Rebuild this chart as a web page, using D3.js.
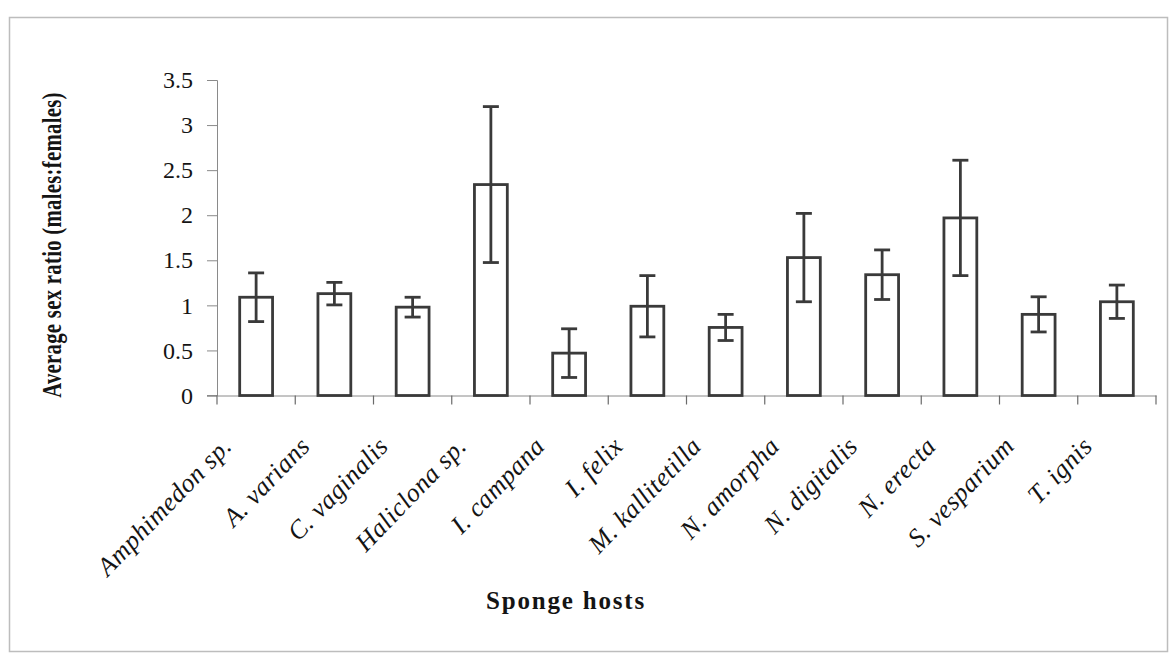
<!DOCTYPE html>
<html>
<head>
<meta charset="utf-8">
<script src="https://cdn.jsdelivr.net/npm/d3@7"></script>
<style>
  html, body { margin: 0; padding: 0; background: #fff; }
  svg { display: block; }
  text { font-family: "Liberation Serif", "DejaVu Serif", serif; fill: #141414; }
</style>
</head>
<body>
<svg id="chart" width="1172" height="662"></svg>
<script>
// Average sex ratio (males:females) of the associated fauna per sponge host, with error bars
const hosts = [
  "Amphimedon sp.", "A. varians", "C. vaginalis", "Haliclona sp.",
  "I. campana", "I. felix", "M. kallitetilla", "N. amorpha",
  "N. digitalis", "N. erecta", "S. vesparium", "T. ignis"
];
const meanRatio = [1.09, 1.13, 0.98, 2.34, 0.47, 0.99, 0.755, 1.53, 1.34, 1.97, 0.90, 1.04];
const errRatio  = [0.27, 0.125, 0.11, 0.865, 0.27, 0.34, 0.145, 0.49, 0.275, 0.64, 0.195, 0.185];
const yTicks = [0, 0.5, 1, 1.5, 2, 2.5, 3, 3.5];

const yAxisTitle = "Average sex ratio (males:females)";
const xAxisTitle = "Sponge hosts";

const svg = d3.select("#chart");
const ink = "#3a3a3a";

// outer frame
svg.append("rect")
  .attr("x", 9.5).attr("y", 17.5)
  .attr("width", 1158).attr("height", 634)
  .attr("fill", "none").attr("stroke", "#bdbdbd").attr("stroke-width", 1.5);

const x = d3.scaleBand().domain(hosts).range([217, 1156]).paddingInner(0).paddingOuter(0);
const y = d3.scaleLinear().domain([0, 3.5]).range([395.5, 80]);
const barFrac = 0.42;
const bw = x.bandwidth() * barFrac;
const cx = h => x(h) + x.bandwidth() / 2;

// y axis
const yAxis = svg.append("g")
  .attr("transform", "translate(217,0)")
  .call(d3.axisLeft(y).tickValues(yTicks).tickSize(10).tickPadding(14).tickFormat(d => String(d)));
yAxis.select(".domain").attr("stroke", "#8a8a8a").attr("stroke-width", 1);
yAxis.selectAll(".tick line").attr("stroke", "#8a8a8a").attr("stroke-width", 1);
yAxis.selectAll(".tick text")
  .attr("font-family", "Liberation Serif, serif")
  .attr("font-size", 24)
  .attr("fill", "#141414");

// x axis baseline with boundary ticks between categories
const xAxis = svg.append("g")
  .attr("transform", `translate(0,${y(0)})`)
  .call(d3.axisBottom(x).tickSize(0).tickFormat(""));
xAxis.select(".domain").attr("stroke", "#8a8a8a").attr("stroke-width", 1);
xAxis.selectAll(".tick").remove();
svg.append("line")
  .attr("x1", 207).attr("x2", 217)
  .attr("y1", y(0)).attr("y2", y(0))
  .attr("stroke", "#8a8a8a");
const bounds = hosts.map(h => x(h)).concat([x.range()[1]]);
svg.append("g").selectAll("line").data(bounds).join("line")
  .attr("x1", d => d).attr("x2", d => d)
  .attr("y1", y(0)).attr("y2", y(0) + 9)
  .attr("stroke", "#6a6a6a").attr("stroke-width", 1.2);

// bars
const data = hosts.map((h, i) => ({ h, v: meanRatio[i], e: errRatio[i] }));
svg.append("g").selectAll("rect").data(data).join("rect")
  .attr("x", d => cx(d.h) - bw / 2)
  .attr("y", d => y(d.v))
  .attr("width", bw)
  .attr("height", d => y(0) - y(d.v))
  .attr("fill", "#fff")
  .attr("stroke", ink)
  .attr("stroke-width", 2.8);

// error bars
const cap = 16;
const eb = svg.append("g").attr("stroke", ink).attr("stroke-width", 2.8).attr("fill", "none");
eb.selectAll("line.stem").data(data).join("line").attr("class", "stem")
  .attr("x1", d => cx(d.h)).attr("x2", d => cx(d.h))
  .attr("y1", d => y(d.v + d.e)).attr("y2", d => y(d.v - d.e));
eb.selectAll("line.top").data(data).join("line").attr("class", "top")
  .attr("x1", d => cx(d.h) - cap / 2).attr("x2", d => cx(d.h) + cap / 2)
  .attr("y1", d => y(d.v + d.e)).attr("y2", d => y(d.v + d.e));
eb.selectAll("line.bot").data(data).join("line").attr("class", "bot")
  .attr("x1", d => cx(d.h) - cap / 2).attr("x2", d => cx(d.h) + cap / 2)
  .attr("y1", d => y(d.v - d.e)).attr("y2", d => y(d.v - d.e));

// category labels, slanted
svg.append("g").selectAll("text").data(hosts).join("text")
  .attr("transform", h => `translate(${cx(h) - 23},${y(0) + 52}) rotate(-46)`)
  .attr("text-anchor", "end")
  .attr("font-style", "italic")
  .attr("font-size", 26)
  .attr("letter-spacing", 0.5)
  .text(h => h);

// axis titles (tall, narrow bold lettering)
svg.append("text")
  .attr("transform", "translate(61,245) rotate(-90) scale(0.74,1)")
  .attr("text-anchor", "middle")
  .attr("font-weight", "bold")
  .attr("font-size", 28)
  .attr("letter-spacing", 0.4)
  .text(yAxisTitle);

svg.append("text")
  .attr("x", 566).attr("y", 609)
  .attr("text-anchor", "middle")
  .attr("font-weight", "bold")
  .attr("font-size", 25)
  .attr("letter-spacing", 1.8)
  .text(xAxisTitle);
</script>
</body>
</html>
